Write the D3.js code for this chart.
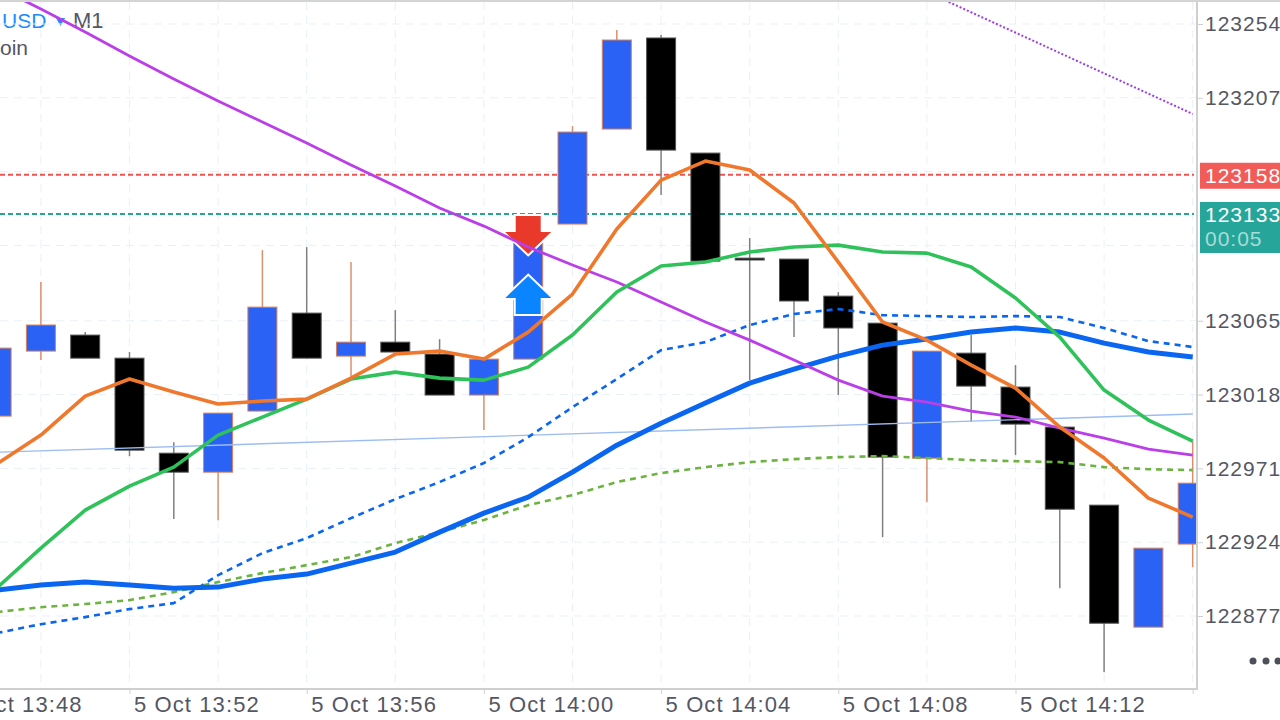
<!DOCTYPE html>
<html>
<head>
<meta charset="utf-8">
<script src="https://cdn.jsdelivr.net/npm/d3@7"></script>
<style>
  html, body { margin: 0; padding: 0; background: #fff; overflow: hidden; }
  text { font-family: "Liberation Sans", Arial, sans-serif; }
  .time-label { font-size: 22px; letter-spacing: 1.1px; fill: #545763; }
  .price-label { font-size: 21px; letter-spacing: 1px; fill: #545763; }
</style>
</head>
<body>
<div id="chart"></div>
<script>
// Candle data, one entry per minute
const times = ['13:49','13:50','13:51','13:52','13:53','13:54','13:55','13:56','13:57','13:58',
  '13:59','14:00','14:01','14:02','14:03','14:04','14:05','14:06','14:07','14:08',
  '14:09','14:10','14:11','14:12','14:13','14:14','14:15','14:16'];
const opens = [123004.3,123045.7,123055.9,123041.2,122980.7,122968.6,123007.5,123069.9,123042.5,123051.4,
  123043.8,123017.7,123040.6,123126.6,123187.1,123245.1,123171.8,123104.9,123104.3,123080.7,
  123063.5,122977.5,123044.4,123022.8,122997.3,122947.6,122869.9,122922.8];
const closes = [123047.6,123062.3,123041.2,122982.6,122968.6,123006.2,123073.7,123041.2,123051.4,123045.1,
  123017.7,123040.6,123114.5,123185.2,123243.8,123173.7,123103.0,123103.7,123077.6,123060.4,
  122978.2,123045.7,123023.4,122999.2,122945.0,122872.4,122920.2,122961.6];
const highs = [123047.6,123089.7,123057.8,123045.1,122987.7,123006.2,123110.0,123111.9,123102.4,123071.8,
  123053.3,123040.6,123116.4,123189.0,123250.2,123247.0,123171.8,123117.7,123104.3,123083.3,
  123063.5,123045.7,123055.9,123036.8,122998.6,122947.6,122920.2,122988.4];
const lows = [123004.3,123040.0,123041.2,122978.8,122938.7,122938.0,123007.5,123041.2,123027.2,123045.1,
  123017.7,122995.4,123040.6,123126.6,123187.1,123145.1,123103.0,123027.2,123054.6,123017.7,
  122927.2,122949.5,123000.5,122979.5,122894.7,122841.2,122869.9,122908.1];

// Moving averages
const maOrange = [122973.7,122992.2,123017.0,123027.9,123019.6,123012.0,123013.9,123015.1,123028.5,123043.8,
  123045.7,123040.6,123057.8,123082.0,123123.4,123154.6,123166.7,123161.0,123140.0,123102.4,
  123064.2,123052.7,123036.8,123022.1,122997.3,122977.6,122952.1,122940.0];
const maGreen = [122894.7,122920.2,122944.4,122959.7,122971.8,122992.2,123003.7,123015.1,123027.9,123032.3,
  123028.5,123027.2,123035.5,123055.9,123083.3,123099.9,123102.4,123108.8,123112.0,123113.2,
  123108.8,123108.1,123099.2,123079.5,123054.6,123020.9,123001.8,122988.4];
const maPurple = [123277.6,123263.6,123248.9,123233.6,123219.0,123205.0,123191.6,123178.2,123164.2,123150.8,
  123136.8,123125.3,123112.0,123100.5,123089.7,123076.9,123064.2,123052.7,123040.0,123027.2,
  123017.0,123013.2,123007.5,123003.7,122996.7,122990.3,122983.3,122979.5];
const maBlue = [122893.5,122896.7,122898.6,122896.7,122894.7,122895.4,122900.5,122903.7,122910.7,122917.7,
  122930.4,122942.5,122952.7,122968.6,122985.8,122999.8,123012.6,123025.3,123034.2,123042.5,
  123049.5,123053.4,123057.8,123060.4,123057.8,123050.8,123045.1,123041.9];
const maBlueDash = [122866.1,122871.8,122876.3,122881.4,122885.2,122903.0,122917.0,122926.6,122939.3,122951.4,
  122962.3,122974.4,122990.9,123010.0,123027.9,123046.3,123051.4,123062.3,123069.3,123072.5,
  123068.6,123068.0,123067.4,123068.0,123067.4,123060.4,123052.1,123048.3];
const maGreenDash = [122879.5,122882.6,122884.6,122887.1,122892.2,122898.6,122904.3,122909.4,122914.5,122923.4,
  122930.4,122938.1,122947.6,122954.0,122962.3,122968.0,122971.8,122975.0,122976.9,122978.2,
  122978.8,122977.6,122976.3,122975.6,122975.0,122971.8,122970.5,122969.9];

// Trend lines
const trendBlueTimes = ['13:49','14:16'];
const trendBlueValues = [122981.3,123005.6];
const trendPurpleTimes = ['14:10','14:16'];
const trendPurpleValues = [123274.4,123196.7];

// Axes and price levels
const priceTicks = [123254,123207,123160,123113,123065,123018,122971,122924,122877];
const priceLabels = [123254,123207,123065,123018,122971,122924,122877];
const askPrice = 123158;
const bidPrice = 123133;
const countdown = '00:05';
const timeLabels = ['13:48','13:52','13:56','14:00','14:04','14:08','14:12'];
const gridTimes = ['13:50','13:52','13:54','13:56','13:58','14:00','14:02','14:04','14:06','14:08','14:10','14:12','14:14','14:16'];
const sellTime = '14:01', sellPrice = 123107.5;
const buyTime = '14:01', buyPrice = 123093.5;

const W = 1280, H = 720;
const plot = { left: 0, top: 2, right: 1197, bottom: 689 };

const parseT = s => {
  const [h, m] = s.split(':').map(Number);
  return new Date(Date.UTC(2023, 9, 5, h, m));
};

const x = d3.scaleUtc()
  .domain([parseT('13:52'), parseT('14:12')])
  .range([129.5, 1015.5]);
const y = d3.scaleLinear()
  .domain([123254, 122877])
  .range([24, 616]);

const candles = times.map((t, i) => ({
  t: parseT(t), o: opens[i], c: closes[i], h: highs[i], l: lows[i]
}));

const svg = d3.select('#chart').append('svg')
  .attr('width', W).attr('height', H)
  .style('display', 'block');

svg.append('defs').append('clipPath').attr('id', 'plot-clip')
  .append('rect')
  .attr('x', plot.left).attr('y', plot.top)
  .attr('width', plot.right - plot.left).attr('height', plot.bottom - plot.top);

// Symbol header, sits under the indicator lines
svg.append('text').attr('x', 2).attr('y', 28).attr('fill', '#1a8cff')
  .style('font-size', '21px').text('USD');
svg.append('path').attr('d', 'M56,18 L65,18 L60.5,26 Z').attr('fill', '#1a8cff');
svg.append('text').attr('x', 73).attr('y', 28).attr('fill', '#545763')
  .style('font-size', '22px').text('M1');
svg.append('text').attr('x', 0).attr('y', 55).attr('fill', '#545763')
  .style('font-size', '21px').text('oin');

const body = svg.append('g').attr('clip-path', 'url(#plot-clip)');

// Grid
body.append('g').selectAll('line').data(priceTicks).join('line')
  .attr('x1', plot.left).attr('x2', plot.right)
  .attr('y1', d => y(d)).attr('y2', d => y(d))
  .attr('stroke', '#e9f0f9').attr('stroke-dasharray', '8 6');
body.append('g').selectAll('line').data(gridTimes).join('line')
  .attr('x1', d => x(parseT(d))).attr('x2', d => x(parseT(d)))
  .attr('y1', plot.top).attr('y2', plot.bottom)
  .attr('stroke', '#e9f0f9').attr('stroke-dasharray', '8 6');

// Ask / bid levels
body.append('line')
  .attr('x1', plot.left).attr('x2', plot.right - 3)
  .attr('y1', y(askPrice)).attr('y2', y(askPrice))
  .attr('stroke', '#f0524f').attr('stroke-width', 1.8).attr('stroke-dasharray', '5 3');
body.append('line')
  .attr('x1', plot.left).attr('x2', plot.right - 3)
  .attr('y1', y(bidPrice)).attr('y2', y(bidPrice))
  .attr('stroke', '#26a69a').attr('stroke-width', 1.8).attr('stroke-dasharray', '5 3');

// Candles
const candleW = 29;
const isUp = d => d.c >= d.o;
body.append('g').selectAll('line').data(candles).join('line')
  .attr('x1', d => x(d.t)).attr('x2', d => x(d.t))
  .attr('y1', d => y(d.h)).attr('y2', d => y(d.l))
  .attr('stroke', d => isUp(d) ? '#d9906f' : '#808080')
  .attr('stroke-width', 1.5);
body.append('g').selectAll('rect').data(candles).join('rect')
  .attr('x', d => x(d.t) - candleW / 2)
  .attr('width', candleW)
  .attr('y', d => y(Math.max(d.o, d.c)))
  .attr('height', d => Math.max(1, Math.abs(y(d.o) - y(d.c))))
  .attr('fill', d => isUp(d) ? '#2962f5' : '#000')
  .attr('stroke', d => isUp(d) ? '#d9805a' : '#555')
  .attr('stroke-width', 1);

// Trade arrows, tip sits on the price
const arrowPath = dir => {
  const s = dir;
  return `M0,0 L23,${-22 * s} L12.5,${-22 * s} L12.5,${-38 * s} L-12.5,${-38 * s} L-12.5,${-22 * s} L-23,${-22 * s} Z`;
};
body.append('path')
  .attr('d', arrowPath(1))
  .attr('transform', `translate(${x(parseT(sellTime))},${y(sellPrice)})`)
  .attr('fill', '#e8392b').attr('stroke', '#fff').attr('stroke-width', 4).attr('paint-order', 'stroke');
body.append('path')
  .attr('d', arrowPath(-1))
  .attr('transform', `translate(${x(parseT(buyTime))},${y(buyPrice)})`)
  .attr('fill', '#0a84ff').attr('stroke', '#fff').attr('stroke-width', 4).attr('paint-order', 'stroke');

// Indicator lines
const lineGen = d3.line().x(d => x(d[0])).y(d => y(d[1]));
const series = (ts, vs) => ts.map((t, i) => [parseT(t), vs[i]]);
const drawLine = (ts, vs, color, width, dash) => {
  body.append('path')
    .datum(series(ts, vs))
    .attr('d', lineGen)
    .attr('fill', 'none')
    .attr('stroke', color)
    .attr('stroke-width', width)
    .attr('stroke-linejoin', 'round')
    .attr('stroke-dasharray', dash || null);
};
drawLine(trendBlueTimes, trendBlueValues, '#9dbcf2', 1.4);
drawLine(trendPurpleTimes, trendPurpleValues, '#9b3fe3', 2, '2 2');
drawLine(times, maGreenDash, '#6cb33f', 2.6, '6 5');
drawLine(times, maBlueDash, '#0a66f0', 2.6, '6 5');
drawLine(times, maBlue, '#0a66f0', 5);
drawLine(times, maPurple, '#bb3fe8', 2.8);
drawLine(times, maGreen, '#2fc25b', 3.6);
drawLine(times, maOrange, '#f0782d', 3.6);

// Frame
svg.append('line').attr('x1', 0).attr('x2', W).attr('y1', 1).attr('y2', 1)
  .attr('stroke', '#d4d4d4').attr('stroke-width', 2);
svg.append('line').attr('x1', plot.right).attr('x2', plot.right).attr('y1', plot.top).attr('y2', plot.bottom + 1)
  .attr('stroke', '#cfcfcf').attr('stroke-width', 2);

// Time axis
const xAxis = d3.axisBottom(x)
  .tickValues(timeLabels.map(parseT).concat([parseT('14:16')]))
  .tickSize(5)
  .tickFormat(d => d.getUTCMinutes() === 16 ? '' : d3.utcFormat('%-d %b %H:%M')(d));
const xG = svg.append('g')
  .attr('transform', `translate(0,${plot.bottom})`)
  .call(xAxis);
xG.select('.domain').attr('d', `M0,0H${plot.right}`).attr('stroke', '#cfcfcf').attr('stroke-width', 2);
xG.selectAll('line').attr('stroke', '#cfcfcf');
xG.selectAll('text')
  .attr('class', 'time-label')
  .attr('text-anchor', 'start')
  .attr('x', 4).attr('y', 6).attr('dy', '17px');

// Price axis
const yAxis = d3.axisRight(y)
  .tickValues(priceLabels)
  .tickSize(6)
  .tickFormat(d3.format('d'));
const yG = svg.append('g')
  .attr('transform', `translate(${plot.right},0)`)
  .call(yAxis);
yG.select('.domain').remove();
yG.selectAll('line').attr('stroke', '#cfcfcf');
yG.selectAll('text')
  .attr('class', 'price-label')
  .attr('x', 8);

// Price tags
svg.append('rect').attr('x', 1200).attr('y', y(askPrice) - 12).attr('width', 80).attr('height', 26).attr('fill', '#f15b58');
svg.append('text').attr('x', 1205).attr('y', y(askPrice) + 8)
  .attr('fill', '#fff').attr('class', 'tag').style('font-size', '21px').style('letter-spacing', '1px').text(askPrice);
svg.append('rect').attr('x', 1200).attr('y', y(bidPrice) - 12).attr('width', 80).attr('height', 51).attr('fill', '#26a69a');
svg.append('text').attr('x', 1205).attr('y', y(bidPrice) + 8)
  .attr('fill', '#fff').style('font-size', '21px').style('letter-spacing', '1px').text(bidPrice);
svg.append('text').attr('x', 1205).attr('y', y(bidPrice) + 32)
  .attr('fill', '#a8dcd7').style('font-size', '21px').style('letter-spacing', '1px').text(countdown);

// Menu dots
svg.append('g').selectAll('circle').data([1253, 1266, 1278]).join('circle')
  .attr('cx', d => d).attr('cy', 661).attr('r', 3.5).attr('fill', '#4d5058');
</script>
</body>
</html>
